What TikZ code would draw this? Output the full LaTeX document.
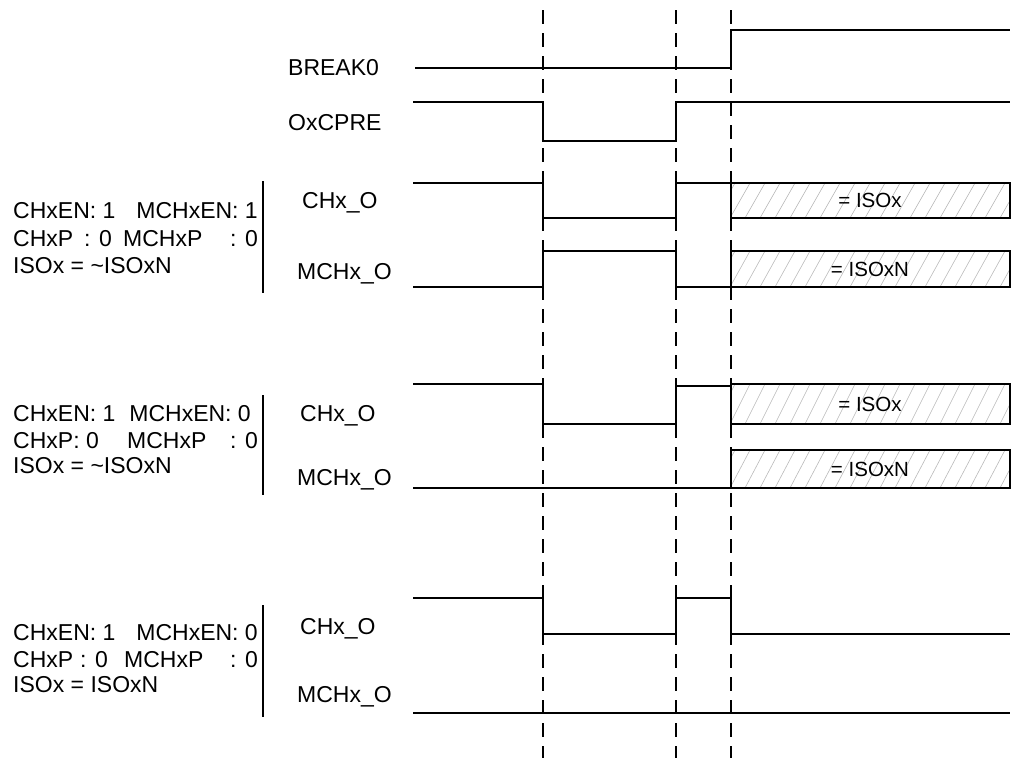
\documentclass[tikz,border=0pt]{standalone}
\usepackage{fontspec}
\setmainfont{Liberation Sans}
\begin{document}
\begin{tikzpicture}[x=1pt,y=-1pt,
  sig/.style={line width=1.4pt, line join=miter},
  guide/.style={line width=1.2pt, dash pattern=on 14pt off 9pt},
  bar/.style={line width=1.4pt},
  lbl/.style={inner sep=0pt, anchor=base west, font=\fontsize{23}{27}\selectfont},
  lblr/.style={inner sep=0pt, anchor=base east, font=\fontsize{23}{27}\selectfont},
  boxtxt/.style={inner sep=0pt, font=\fontsize{20.5}{24}\selectfont},
  hatchline/.style={gray!55, line width=0.6pt}
]
\useasboundingbox (0,0) rectangle (1014,758);

% guide lines
\coordinate (ga1) at (543,10); \coordinate (gb1) at (543,758);
\coordinate (ga2) at (676,10); \coordinate (gb2) at (676,758);
\coordinate (ga3) at (731,10); \coordinate (gb3) at (731,758);
\draw[guide] (ga1) -- (gb1);
\draw[guide] (ga2) -- (gb2);
\draw[guide] (ga3) -- (gb3);

% hatched boxes
\foreach \T/\B/\nm/\txt in {183/218/bA/{= ISOx}, 251/287/bB/{= ISOxN}, 384/424/bC/{= ISOx}, 450/488/bD/{= ISOxN}}{
  \begin{scope}
    \clip (731,\T) rectangle (1010,\B);
    \foreach \k in {700,715,...,1010}{
      \draw[hatchline] (\k,\B) -- ({\k+20},\T);
    }
  \end{scope}
  \draw[sig] (731,\T) rectangle (1010,\B);
  \node[boxtxt] (\nm) at (870,{(\T+\B)/2}) {\txt};
}

% top signals
\node[lbl] (break) at (288,75.5) {BREAK0};
\node[lbl] (ocpre) at (288,130) {OxCPRE};
\draw[sig] (415,68) -- (731,68) -- (731,30) -- (1010,30);
\draw[sig] (413,102) -- (543,102) -- (543,141) -- (676,141) -- (676,102) -- (1010,102);

% group 1
\node[lbl] (g1a) at (13,218) {CHxEN: 1};
\node[lblr] (g1b) at (258,218) {MCHxEN: 1};
\node[lbl] (g1c) at (13,246) {CHxP};
\node[lbl] (g1c2) at (84,246) {: 0};
\node[lbl] (g1d) at (123,246) {MCHxP};
\node[lblr] (g1d2) at (258,246) {: 0};
\node[lbl] (g1e) at (13,273) {ISOx = \textasciitilde ISOxN};
\draw[bar] (263,181) -- (263,293);
\node[lbl] (g1ch) at (302,208) {CHx\_O};
\node[lbl] (g1mch) at (297,279) {MCHx\_O};
\draw[sig] (413,183) -- (543,183) -- (543,218) -- (676,218) -- (676,183) -- (731,183);
\draw[sig] (413,287) -- (543,287) -- (543,251) -- (676,251) -- (676,287) -- (731,287);

% group 2
\node[lbl] (g2a) at (13,421) {CHxEN: 1};
\node[lblr] (g2b) at (251,421) {MCHxEN: 0};
\node[lbl] (g2c) at (13,448) {CHxP: 0};
\node[lbl] (g2d) at (127,448) {MCHxP};
\node[lblr] (g2d2) at (258,448) {: 0};
\node[lbl] (g2e) at (13,473) {ISOx = \textasciitilde ISOxN};
\draw[bar] (263,395) -- (263,495);
\node[lbl] (g2ch) at (300,421) {CHx\_O};
\node[lbl] (g2mch) at (297,485) {MCHx\_O};
\draw[sig] (413,384) -- (543,384) -- (543,424) -- (676,424) -- (676,386) -- (731,386);
\draw[sig] (413,488) -- (731,488);

% group 3
\node[lbl] (g3a) at (13,640) {CHxEN: 1};
\node[lblr] (g3b) at (258,640) {MCHxEN: 0};
\node[lbl] (g3c) at (13,667) {CHxP};
\node[lbl] (g3c2) at (80,667) {: 0};
\node[lbl] (g3d) at (124,667) {MCHxP};
\node[lblr] (g3d2) at (258,667) {: 0};
\node[lbl] (g3e) at (13,692) {ISOx = ISOxN};
\draw[bar] (263,605) -- (263,717);
\node[lbl] (g3ch) at (300,634) {CHx\_O};
\node[lbl] (g3mch) at (297,702) {MCHx\_O};
\draw[sig] (413,598) -- (543,598) -- (543,634) -- (676,634) -- (676,598) -- (731,598) -- (731,634) -- (1010,634);
\draw[sig, line width=2pt] (413,713) -- (1010,713);
\end{tikzpicture}
\end{document}
